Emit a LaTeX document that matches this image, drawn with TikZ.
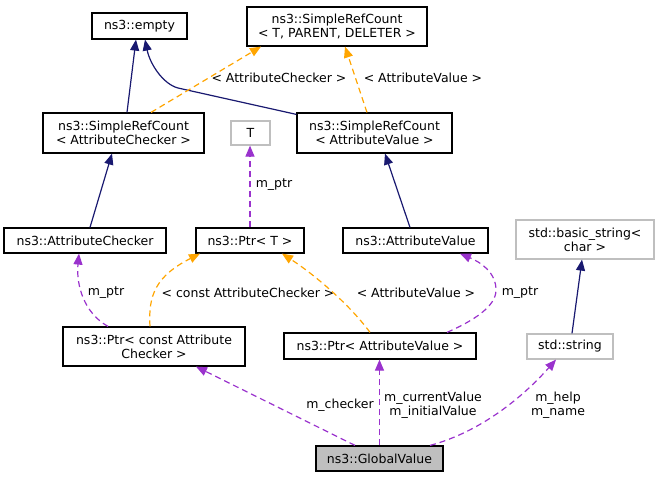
\documentclass[tikz,border=0pt]{standalone}
\usepackage{fontspec}
\setmainfont{DejaVu Sans}
\usetikzlibrary{arrows.meta,calc}
\definecolor{inhcol}{HTML}{191970}
\definecolor{tplcol}{HTML}{FFA500}
\definecolor{usecol}{HTML}{9A32CD}
\definecolor{graybd}{HTML}{BFBFBF}
\begin{document}
\begin{tikzpicture}[x=1pt,y=-1pt,
  font=\fontsize{12.5}{14}\selectfont,
  box/.style={draw=black,line width=1.2pt,fill=white,inner sep=0pt,align=center,anchor=center},
  gbox/.style={box,draw=graybd},
  lbl/.style={inner sep=0pt,align=center,anchor=center},
  inh/.style={draw=inhcol,line width=1.2pt,-{Triangle[length=11pt,width=9pt]}},
  tpl/.style={draw=tplcol,line width=1.2pt,dash pattern=on 6pt off 4pt,-{Triangle[length=11pt,width=9pt]}},
  use/.style={draw=usecol,line width=1.2pt,dash pattern=on 6pt off 4pt,-{Triangle[length=11pt,width=9pt]}}
]
\useasboundingbox (0,0) rectangle (659,477);

\node[box,minimum width=95pt,minimum height=26pt] (empty) at (139.5,26) {ns3::empty};
\node[box,minimum width=180pt,minimum height=39pt] (srT) at (337,26.5) {ns3::SimpleRefCount\\< T, PARENT, DELETER >};
\node[box,minimum width=161pt,minimum height=40pt] (srAC) at (123.5,133) {ns3::SimpleRefCount\\< AttributeChecker >};
\node[gbox,minimum width=39pt,minimum height=24pt] (T) at (250.5,133) {T};
\node[box,minimum width=155pt,minimum height=40pt] (srAV) at (374.5,133) {ns3::SimpleRefCount\\< AttributeValue >};
\node[box,minimum width=162pt,minimum height=25pt] (AC) at (85,240.5) {ns3::AttributeChecker};
\node[box,minimum width=108pt,minimum height=25pt] (PtrT) at (250,240.5) {ns3::Ptr< T >};
\node[box,minimum width=145pt,minimum height=25pt] (AV) at (415.5,240.5) {ns3::AttributeValue};
\node[gbox,minimum width=138pt,minimum height=39pt] (bstr) at (585,239.5) {std::basic\_string<\\char >};
\node[box,minimum width=182pt,minimum height=39pt] (PtrAC) at (154,346.5) {ns3::Ptr< const Attribute\\Checker >};
\node[box,minimum width=192pt,minimum height=26pt] (PtrAV) at (380,346) {ns3::Ptr< AttributeValue >};
\node[gbox,minimum width=86pt,minimum height=25pt] (str) at (570,346.5) {std::string};
\node[box,fill=graybd,minimum width=127pt,minimum height=25pt] (GV) at (379.5,458.5) {ns3::GlobalValue};

% inheritance
\draw[inh] ($(srAC.north)+(3.5,0)$) -- ($(empty.south)+(-3.5,0)$);
\draw[inh] ($(srAV.north west)+(0,2)$) -- (178,88) .. controls (163,84) and (150,64) .. ($(empty.south)+(5.5,0)$);
\draw[inh] ($(AC.north)+(5,0)$) -- ($(srAC.south)+(-11.5,0)$);
\draw[inh] ($(AV.north)+(-5.5,0)$) -- ($(srAV.south)+(10.5,0)$);
\draw[inh] ($(str.north)+(2,0)$) -- ($(bstr.south)+(-3,0)$);

% template instantiation
\draw[tpl] ($(srAC.north)+(27.5,0)$) -- ($(srT.south)+(-76,0)$);
\node[lbl] (l3) at (279,78) {< AttributeChecker >};
\draw[tpl] ($(srAV.north)+(-7.5,0)$) -- ($(srT.south)+(8,0)$);
\node[lbl] (l4) at (423,78) {< AttributeValue >};
\draw[tpl] ($(PtrAC.north)+(-4,0)$) .. controls (148,295) and (156,276) .. ($(PtrT.south)+(-50,0)$);
\node[lbl] (l10) at (248,293) {< const AttributeChecker >};
\draw[tpl] ($(PtrAV.north)+(-10,0)$) .. controls (350,305) and (315,275) .. ($(PtrT.south)+(32,0)$);
\node[lbl] (l11) at (416,293) {< AttributeValue >};

% usage
\draw[use] (PtrT.north) -- ($(T.south)+(-0.5,0)$);
\node[lbl] (l7) at (274,185) {m\_ptr};
\draw[use] ($(PtrAC.north)+(-46,0)$) .. controls (84,313) and (76,285) .. ($(AC.south)+(-6,0)$);
\node[lbl] (l9) at (106,293) {m\_ptr};
\draw[use] ($(PtrAV.north)+(67,0)$) .. controls (475,320) and (496,306) .. (496,290) .. controls (496,272) and (480,262) .. ($(AV.south)+(44.5,0)$);
\node[lbl] (l12) at (520,293) {m\_ptr};
\draw[use] ($(GV.north)+(-24.5,0)$) -- ($(PtrAC.south)+(42,0)$);
\node[lbl] (l13) at (340,405) {m\_checker};
\draw[use] (GV.north) -- (GV.north |- PtrAV.south);
\node[lbl] (l14) at (433,405) {m\_currentValue\\m\_initialValue};
\draw[use] ($(GV.north)+(50.5,0)$) .. controls (480,432) and (522,398) .. ($(str.south)+(-14,0)$);
\node[lbl] (l15) at (558,405) {m\_help\\m\_name};
\end{tikzpicture}
\end{document}
